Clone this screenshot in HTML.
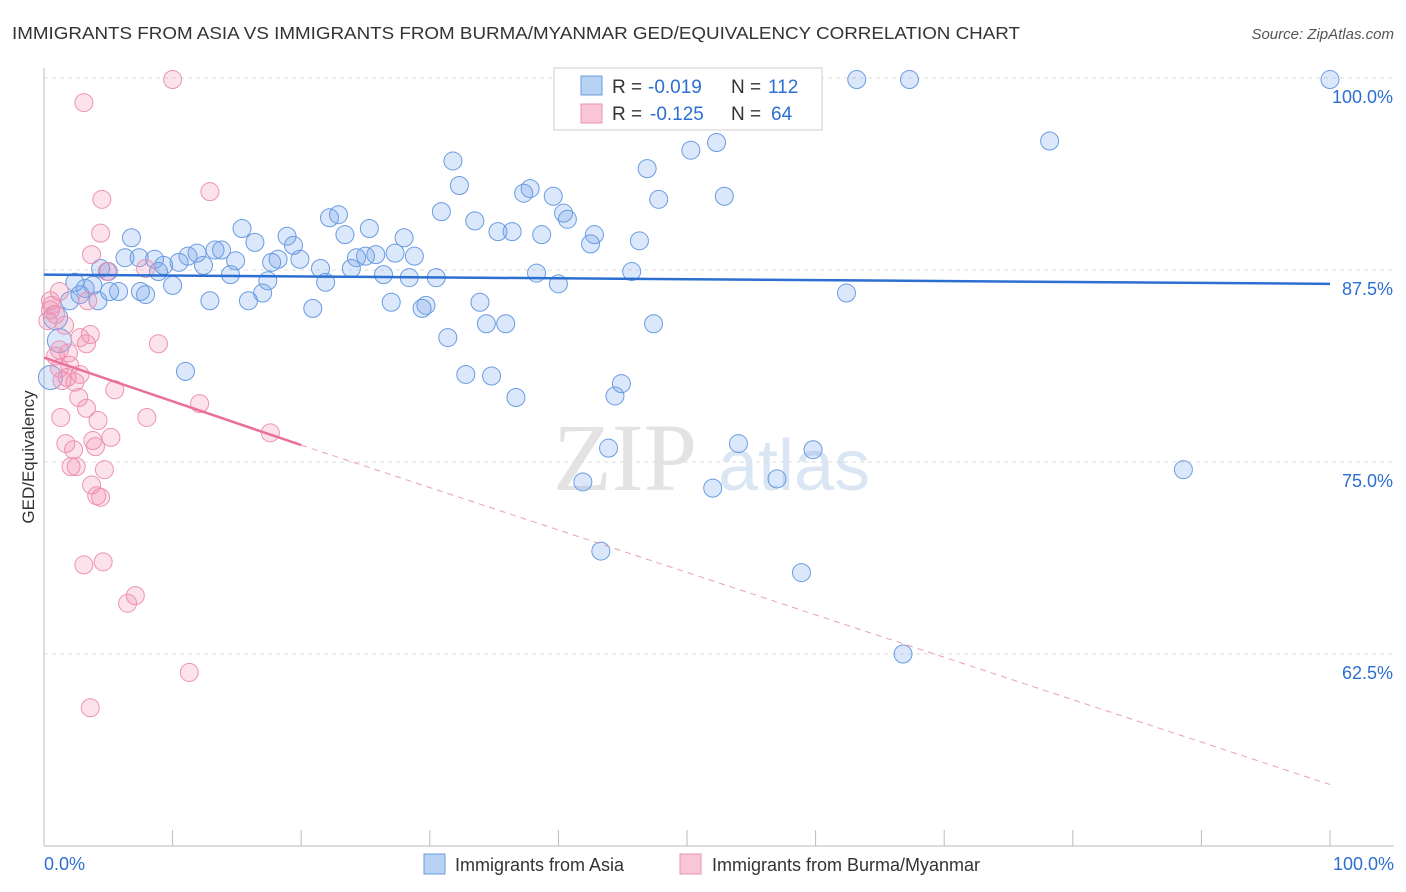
<!DOCTYPE html>
<html><head><meta charset="utf-8"><style>
body{margin:0;background:#fff;font-family:"Liberation Sans",sans-serif;}
#c{position:relative;width:1406px;height:892px;overflow:hidden}
</style></head><body>
<div id="c">
<svg id="s" width="1406" height="892" xmlns="http://www.w3.org/2000/svg" font-family="Liberation Sans, sans-serif">
<text x="12" y="39" font-size="17.5" fill="#333" textLength="1008" lengthAdjust="spacingAndGlyphs">IMMIGRANTS FROM ASIA VS IMMIGRANTS FROM BURMA/MYANMAR GED/EQUIVALENCY CORRELATION CHART</text>
<text x="1394" y="39" font-size="15" font-style="italic" fill="#555" text-anchor="end">Source: ZipAtlas.com</text>
<text transform="translate(34,457) rotate(-90)" font-size="17" fill="#333" text-anchor="middle">GED/Equivalency</text>
<g><text x="553" y="490" font-size="96" font-family="Liberation Serif, serif" fill="#d8d8d8" opacity="0.7">ZIP</text><text x="718" y="490" font-size="72" fill="#c4d6ee" opacity="0.6">atlas</text></g>
<g id="grid"></g><g id="axes"></g><g id="pts"></g><g id="trend"></g>
<g>
<rect x="554" y="68" width="268" height="62" fill="#fff" stroke="#ccc"/>
<rect x="581" y="76" width="21" height="19" fill="#b8d2f4" stroke="#6a9ce0"/>
<rect x="581" y="104" width="21" height="19" fill="#f9c6d6" stroke="#ec93b2"/>
<text x="612" y="93" font-size="19" fill="#333">R =</text><text x="648" y="93" font-size="19" fill="#2c6fd1">-0.019</text>
<text x="731" y="93" font-size="19" fill="#333">N =</text><text x="768" y="93" font-size="19" fill="#2c6fd1">112</text>
<text x="612" y="120" font-size="19" fill="#333">R =</text><text x="650" y="120" font-size="19" fill="#2c6fd1">-0.125</text>
<text x="731" y="120" font-size="19" fill="#333">N =</text><text x="771" y="120" font-size="19" fill="#2c6fd1">64</text>
</g>
<g>
<rect x="424" y="854" width="21" height="20" fill="#b8d2f4" stroke="#6a9ce0"/>
<text x="455" y="871" font-size="18" fill="#333">Immigrants from Asia</text>
<rect x="680" y="854" width="21" height="20" fill="#f9c6d6" stroke="#ec93b2"/>
<text x="712" y="871" font-size="18" fill="#333">Immigrants from Burma/Myanmar</text>
</g>
<text x="44" y="870" font-size="18" fill="#2c6fd1">0.0%</text>
<text x="1394" y="870" font-size="18" fill="#2c6fd1" text-anchor="end">100.0%</text>
</svg></div>
<script>
const yTicks=[100,87.5,75,62.5];
const yTickLabels=["100.0%","87.5%","75.0%","62.5%"];
const asiaX=[100,63.2,67.3,78.2,52.3,50.3,31.8,46.9,32.3,37.3,37.8,39.6,47.8,52.9,30.9,40.4,22.2,22.9,33.5,40.7,15.4,25.3,35.3,36.4,38.7,42.8,6.8,18.9,23.4,28.0,46.3,16.4,42.5,19.4,13.3,13.8,11.2,11.9,25.8,25.0,24.3,27.3,28.8,7.4,6.3,8.6,9.3,10.5,12.4,14.9,18.2,19.9,17.7,21.5,23.9,4.4,5.0,8.9,14.5,26.4,28.4,30.5,38.3,45.7,17.4,21.9,40.0,10.0,3.8,3.2,5.8,7.9,12.9,15.9,17.0,27.0,29.7,33.9,20.9,29.4,62.4,34.4,35.9,47.4,31.4,11.0,32.8,34.8,44.9,44.4,36.7,43.9,54.0,59.8,88.6,41.9,57.0,52.0,43.3,58.9,66.8,45.3,4.2,2.0,0.9,0.5,1.2,2.8,5.1,7.5,2.4];
const asiaY=[99.9,99.9,99.9,95.9,95.8,95.3,94.6,94.1,93.0,92.5,92.8,92.3,92.1,92.3,91.3,91.2,90.9,91.1,90.7,90.8,90.2,90.2,90.0,90.0,89.8,89.8,89.6,89.7,89.8,89.6,89.4,89.3,89.2,89.1,88.8,88.8,88.4,88.6,88.5,88.4,88.3,88.6,88.4,88.3,88.3,88.2,87.8,88.0,87.8,88.1,88.2,88.2,88.0,87.6,87.6,87.6,87.4,87.4,87.2,87.2,87.0,87.0,87.3,87.4,86.8,86.7,86.6,86.5,86.5,86.3,86.1,85.9,85.5,85.5,86.0,85.4,85.2,85.4,85.0,85.0,86.0,84.0,84.0,84.0,83.1,80.9,80.7,80.6,80.1,79.3,79.2,75.9,76.2,75.8,74.5,73.7,73.9,73.3,69.2,67.8,62.5,97.3,85.5,85.5,84.4,80.5,82.9,85.9,86.1,86.1,86.7];
const burmaX=[10.0,3.1,12.9,4.5,4.4,3.7,7.9,4.9,1.2,3.4,0.5,0.5,0.9,1.6,3.6,2.8,3.3,8.9,1.2,1.9,0.9,2.0,1.2,2.8,1.8,1.4,2.4,5.5,2.7,12.1,3.3,8.0,1.3,4.2,1.7,4.0,5.2,3.8,2.3,17.6,2.1,2.5,4.7,3.7,4.1,4.4,3.1,4.6,7.1,6.5,11.3,3.6,0.6,0.3];
const burmaY=[99.9,98.4,92.6,92.1,89.9,88.5,87.6,87.4,86.1,85.5,85.5,84.9,84.6,83.9,83.3,83.1,82.7,82.7,82.3,82.1,81.9,81.3,81.1,80.7,80.5,80.3,80.2,79.7,79.2,78.8,78.5,77.9,77.9,77.7,76.2,76.0,76.6,76.4,75.8,76.9,74.7,74.7,74.5,73.5,72.8,72.7,68.3,68.5,66.3,65.8,61.3,59.0,85.2,84.2];
const asiaTrend=[87.2,86.6];
const burmaTrend=[81.8,76.1,54.0];
const burmaTrendX=[0,20,100];

const NS="http://www.w3.org/2000/svg";
const X=v=>44+v*12.86, Y=v=>78+(100-v)*15.36;
function mk(tag,attrs,parent){const e=document.createElementNS(NS,tag);for(const k in attrs)e.setAttribute(k,attrs[k]);parent.appendChild(e);return e;}
const grid=document.getElementById('grid'),axes=document.getElementById('axes'),pts=document.getElementById('pts'),tr=document.getElementById('trend');
yTicks.forEach((t,i)=>{
 const l=mk('line',{x1:44,x2:1394,y1:Y(t),y2:Y(t),stroke:'#ddd','stroke-dasharray':'4,4'},grid);
 
 
 const tx=mk('text',{x:1393,y:Y(t)+25,'font-size':18,fill:'#2c6fd1','text-anchor':'end'},grid);
 tx.textContent=yTickLabels[i];
 
 
});
mk('line',{x1:44,x2:44,y1:68,y2:846,stroke:'#bbb'},axes);
mk('line',{x1:44,x2:1394,y1:846,y2:846,stroke:'#bbb'},axes);
for(let i=0;i<=10;i++){const t=mk('line',{x1:X(i*10),x2:X(i*10),y1:830,y2:846,stroke:'#bbb'},axes);
 
 }
function dots(xs,ys,fill,stroke,name,big){xs.forEach((x,i)=>{
 const r=(big && x<1.3)?12:9;
 const c=mk('circle',{cx:X(x),cy:Y(ys[i]),r:r,fill:fill,stroke:stroke,'stroke-width':1},pts);
 
 
});}
dots(asiaX,asiaY,'rgba(110,160,235,0.25)','#6a9ce0','asia-point',true);
dots(burmaX,burmaY,'rgba(242,140,175,0.25)','#ec93b2','burma-point',false);
const bl=mk('line',{x1:X(0),y1:Y(asiaTrend[0]),x2:X(100),y2:Y(asiaTrend[1]),stroke:'#2c6fd1','stroke-width':2.5},tr);


const pl=mk('line',{x1:X(burmaTrendX[0]),y1:Y(burmaTrend[0]),x2:X(burmaTrendX[1]),y2:Y(burmaTrend[1]),stroke:'#e8709a','stroke-width':2.5},tr);


const pd=mk('line',{x1:X(burmaTrendX[1]),y1:Y(burmaTrend[1]),x2:X(burmaTrendX[2]),y2:Y(burmaTrend[2]),stroke:'#e8a0b8','stroke-width':1,'stroke-dasharray':'6,5'},tr);


</script>
</body></html>
